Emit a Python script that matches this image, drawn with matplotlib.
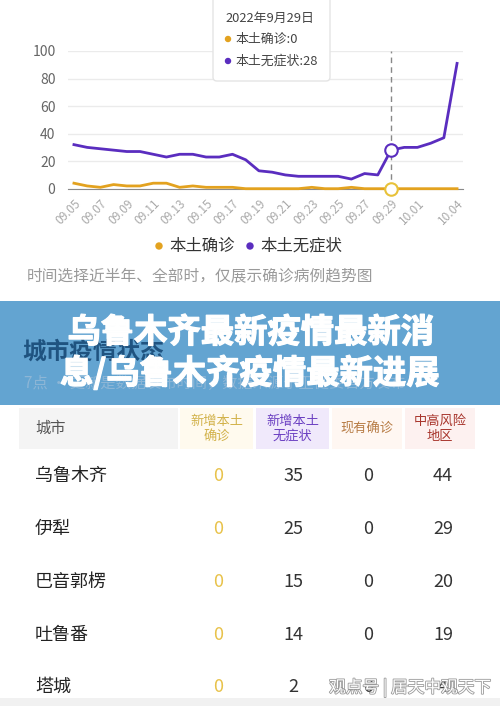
import pandas as pd
import numpy as np
import matplotlib
matplotlib.use('Agg')
import matplotlib.pyplot as plt
from matplotlib.patches import Rectangle, FancyBboxPatch, Circle
from matplotlib.transforms import Affine2D
import matplotlib.patheffects as pe

plt.rcParams['font.family'] = ['Noto Sans CJK SC', 'DejaVu Sans']

# 折线图数据 (09.05 - 10.04)
dates = list(pd.date_range('2022-09-05', '2022-10-04').strftime('%m.%d'))
confirmed = [4, 2, 1, 3, 2, 2, 4, 4, 1, 2, 1, 1, 1, 0, 0, 0, 0, 0, 1, 0,
             0, 1, 0, 0, 0, 0, 0, 0, 0, 0]
asymptomatic = [32, 30, 29, 28, 27, 27, 25, 23, 25, 25, 23, 23, 25, 21, 13,
                12, 10, 9, 9, 9, 9, 7, 11, 10, 28, 30, 30, 33, 37, 91]
tick_dates = ['09.05', '09.07', '09.09', '09.11', '09.13', '09.15', '09.17',
              '09.19', '09.21', '09.23', '09.25', '09.27', '09.29', '10.01', '10.04']
y_ticks = [0, 20, 40, 60, 80, 100]
hover_date = '09.29'

# 表格数据
cities = ['乌鲁木齐', '伊犁', '巴音郭楞', '吐鲁番', '塔城']
new_confirmed = [0, 0, 0, 0, 0]
new_asym = [35, 25, 15, 14, 2]
existing = [0, 0, 0, 0, 0]
risk_areas = [44, 29, 20, 19, 4]

headers = ['新增本土\n确诊', '新增本土\n无症状', '现有确诊', '中高风险\n地区']
header_bg = ['#fffaee', '#f0e9fb', '#fff7f2', '#fdf1f0']
header_fg = ['#d2b24a', '#6b40c2', '#b77c45', '#a8352c']

c_orange = '#e3a21f'
c_purple = '#5a2dbf'

W, H = 500, 706
fig = plt.figure(figsize=(W / 100, H / 100), dpi=100)
fig.patch.set_facecolor('white')
px = Affine2D().scale(1, -1).translate(0, H)  # 像素坐标，原点左上

# ---- 折线图 ----
ax = fig.add_axes([68 / W, 1 - 188.7 / H, 395 / W, 137.7 / H])
x = np.arange(len(dates))
ax.set_xlim(-0.45, len(dates) - 1 + 0.45)
ax.set_ylim(0, 100)
ax.set_yticks(y_ticks)
ax.yaxis.grid(True, color='#ebebeb', linewidth=1)
ax.set_axisbelow(True)
for s in ['top', 'right', 'left']:
    ax.spines[s].set_visible(False)
ax.spines['bottom'].set_color('#8a8a8a')
ax.tick_params(axis='y', length=0, labelsize=10, labelcolor='#666666', pad=9)
ax.set_xticks([dates.index(d) for d in tick_dates])
ax.set_xticklabels(tick_dates, rotation=45, ha='right', rotation_mode='anchor',
                   fontsize=8.5, color='#aaaaaa')
ax.tick_params(axis='x', length=0, pad=6)

hi = dates.index(hover_date)
ax.plot([hi, hi], [0, 100], color='#888888', linestyle=(0, (4, 3)), linewidth=1)
ax.plot(x, confirmed, color=c_orange, linewidth=2, clip_on=False, zorder=3)
ax.plot(x, asymptomatic, color=c_purple, linewidth=2, clip_on=False, zorder=4)
ax.plot(hi, asymptomatic[hi], 'o', markersize=9, markerfacecolor='white',
        markeredgecolor=c_purple, markeredgewidth=1.5, clip_on=False, zorder=5)
ax.plot(hi, confirmed[hi], 'o', markersize=9, markerfacecolor='white',
        markeredgecolor='#e8c23a', markeredgewidth=1.5, clip_on=False, zorder=5)

# 提示框
tip = FancyBboxPatch((213, -8), 117, 89, boxstyle='round,pad=0,rounding_size=4',
                     facecolor='white', edgecolor='#e4e4e4', linewidth=1,
                     transform=px, zorder=5)
fig.add_artist(tip)
fig.text(225, 18, '2022年9月29日', transform=px, fontsize=9.3, color='#444444',
         va='center', zorder=6)
for yy, col, lab, val in [(39, c_orange, '本土确诊', confirmed[hi]),
                          (61, c_purple, '本土无症状', asymptomatic[hi])]:
    fig.add_artist(Circle((228, yy), 2.5, color=col, transform=px, zorder=6))
    fig.text(235, yy, f'{lab}:{val}', transform=px, fontsize=9.3,
             color='#444444', va='center', zorder=6)

# 图例
for cx, col, lab in [(159, c_orange, '本土确诊'), (250, c_purple, '本土无症状')]:
    fig.add_artist(Circle((cx, 246), 3, color=col, transform=px))
    fig.text(cx + 10, 246, lab, transform=px, fontsize=11.8, color='#333333',
             va='center')
fig.text(27, 276, '时间选择近半年、全部时，仅展示确诊病例趋势图', transform=px,
         fontsize=11.3, color='#9a9a9a', va='center')

# ---- 横幅 ----
fig.add_artist(Rectangle((0, 301), W, 104, facecolor='#63a4d1', edgecolor='none',
                         transform=px, zorder=2))
fig.text(22, 352, '城市疫情状态', transform=px, fontsize=17, fontweight='bold',
         color='#1f5380', va='center', zorder=3)
fig.text(24, 383, '7点 · 更新是数据发布时间，数据来源于卫健委官方发布',
         transform=px, fontsize=11, color='#8db6d6', va='center', zorder=3)
title_fx = [pe.withStroke(linewidth=0.9, foreground='white')]
fig.text(251, 333, '乌鲁木齐最新疫情最新消', transform=px, fontsize=24,
         fontweight='bold', color='white', ha='center', va='center', zorder=4,
         path_effects=title_fx)
fig.text(250, 373, '息/乌鲁木齐疫情最新进展', transform=px, fontsize=24,
         fontweight='bold', color='white', ha='center', va='center', zorder=4,
         path_effects=title_fx)

# ---- 表格 ----
col_x = [19, 180, 256, 332, 405, 478]
fig.add_artist(Rectangle((19, 408), 159, 41, facecolor='#f4f4f4',
                         edgecolor='none', transform=px))
fig.text(35, 428, '城市', transform=px, fontsize=11, color='#555555', va='center')
for i, h in enumerate(headers):
    x0, x1 = col_x[i + 1], col_x[i + 2] - 3
    fig.add_artist(Rectangle((x0, 408), x1 - x0, 41, facecolor=header_bg[i],
                             edgecolor='none', transform=px))
    fig.text((x0 + x1) / 2, 429, h, transform=px, fontsize=9.5, color=header_fg[i],
             ha='center', va='center', linespacing=1.15)

num_cx = [218, 293, 368, 443]
row_y = [476, 529, 582, 635, 687]
for r, city in enumerate(cities):
    yy = row_y[r]
    fig.text(35, yy, city, transform=px, fontsize=13, color='#222222', va='center')
    vals = [new_confirmed[r], new_asym[r], existing[r], risk_areas[r]]
    for j, v in enumerate(vals):
        fig.text(num_cx[j], yy, str(v), transform=px, fontsize=13,
                 color='#e8c24a' if j == 0 else '#333333',
                 ha='center', va='center')
    if r < len(cities) - 1:
        fig.add_artist(Rectangle((19, yy + 26.5), 459, 0.8, facecolor='#f2f2f2',
                                 edgecolor='none', transform=px))

# 底部
fig.add_artist(Rectangle((0, 698), W, 8, facecolor='#f1f1f1', edgecolor='none',
                         transform=px))
fig.text(410, 688, '观点号 | 居天中观天下', transform=px, fontsize=12,
         color='white', ha='center', va='center', zorder=6,
         path_effects=[pe.withStroke(linewidth=1.2, foreground='#9a9a9a')])

fig.savefig('out.png', dpi=100)
